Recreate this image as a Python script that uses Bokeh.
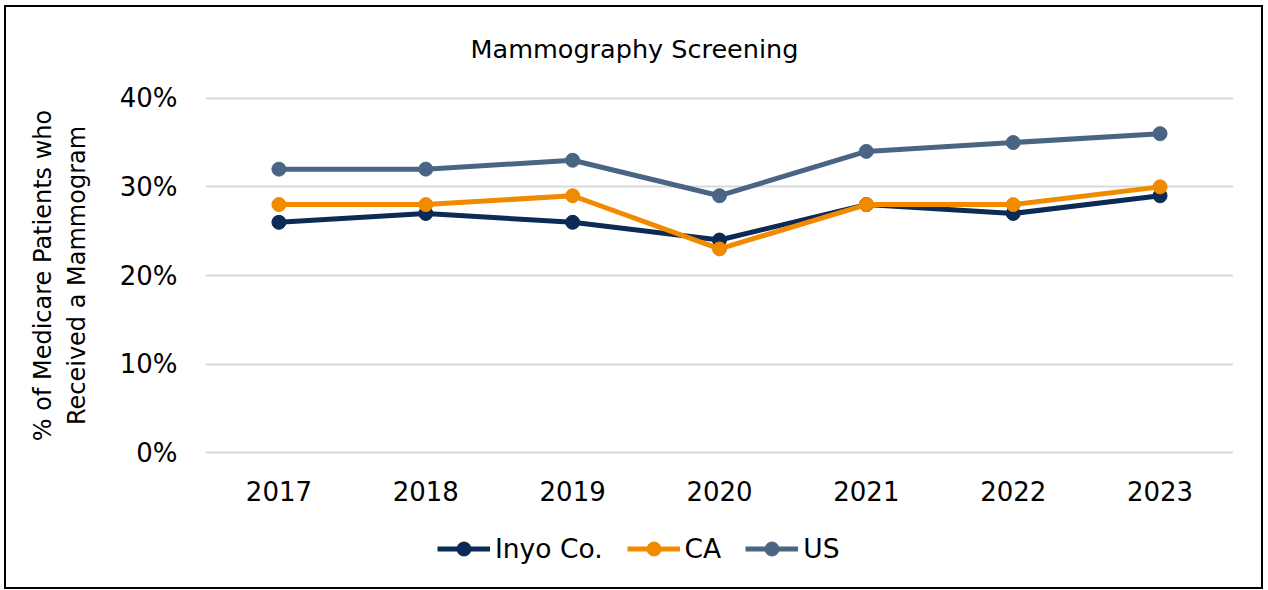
from bokeh.plotting import figure
from bokeh.models import Range1d, Legend, LegendItem, FactorRange, NumeralTickFormatter
from bokeh.layouts import column
from bokeh.embed import file_html
from bokeh.resources import INLINE

years = ["2017", "2018", "2019", "2020", "2021", "2022", "2023"]
inyo = [0.26, 0.27, 0.26, 0.24, 0.28, 0.27, 0.29]
ca = [0.28, 0.28, 0.29, 0.23, 0.28, 0.28, 0.30]
us = [0.32, 0.32, 0.33, 0.29, 0.34, 0.35, 0.36]
series_names = ["Inyo Co.", "CA", "US"]
colors = ["#0B2A55", "#F28A00", "#4A6584"]
y_ticks = [0, 0.1, 0.2, 0.3, 0.4]

FONT = "DejaVu Sans"

p = figure(x_range=FactorRange(*years, range_padding=0), y_range=Range1d(-0.02, 0.42),
           width=1255, height=510, output_backend="svg", toolbar_location=None,
           min_border_left=199, min_border_right=28, min_border_top=73, min_border_bottom=47)
p.outline_line_color = None
p.xgrid.grid_line_color = None
p.ygrid.grid_line_color = "#D9D9D9"
p.ygrid.grid_line_width = 2
p.yaxis.ticker = y_ticks
p.yaxis.formatter = NumeralTickFormatter(format="0%")
for ax in (p.xaxis, p.yaxis):
    ax.axis_line_color = None
    ax.major_tick_line_color = None
    ax.minor_tick_line_color = None
    ax.major_label_text_font = FONT
    ax.major_label_text_font_size = "26px"
    ax.major_label_text_color = "#000000"
p.yaxis.major_label_standoff = 22
p.xaxis.major_label_standoff = 4
p.yaxis.axis_label = "% of Medicare Patients who\nReceived a Mammogram"
p.yaxis.axis_label_text_font = FONT
p.yaxis.axis_label_text_font_size = "24px"
p.yaxis.axis_label_text_font_style = "normal"
p.yaxis.axis_label_text_color = "#000000"
p.yaxis.axis_label_standoff = 26

p.title.text = "Mammography Screening"
p.title.text_font = FONT
p.title.text_font_size = "25.5px"
p.title.text_font_style = "normal"
p.title.text_color = "#000000"
p.title.align = "left"
p.title.offset = 265
p.title.standoff = 34

for name, vals, col in zip(series_names, [inyo, ca, us], colors):
    p.line(years, vals, line_color=col, line_width=5)
    p.scatter(years, vals, size=14, fill_color=col, line_color=col)

# legend strip below the chart (its series lie outside this strip's visible range)
p2 = figure(x_range=FactorRange(*years), y_range=Range1d(1, 2),
            width=1255, height=70, output_backend="svg", toolbar_location=None,
            x_axis_type=None, y_axis_type=None, min_border=0)
p2.outline_line_color = None
p2.grid.visible = False
items = []
for name, vals, col in zip(series_names, [inyo, ca, us], colors):
    l = p2.line(years, vals, line_color=col, line_width=5)
    c = p2.scatter(years, vals, size=14, fill_color=col, line_color=col)
    items.append(LegendItem(label=name, renderers=[l, c]))
legend = Legend(items=items, orientation="horizontal", location=(232, 21),
                label_text_font=FONT, label_text_font_size="26.5px", label_text_color="#000000",
                glyph_width=53, glyph_height=35, spacing=24, label_standoff=5,
                border_line_color=None, background_fill_alpha=0, padding=5, margin=0)
p2.add_layout(legend, "center")

layout = column(p, p2, spacing=0,
                styles={"border": "2px solid black", "margin-left": "4px", "margin-top": "5px"})

open("out.html", "w").write(file_html(layout, INLINE))
